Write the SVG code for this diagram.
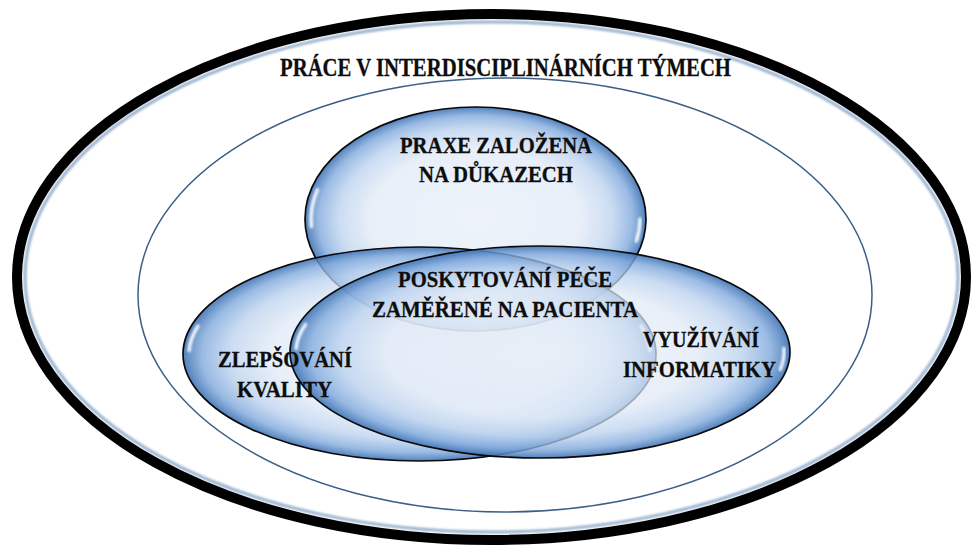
<svg xmlns="http://www.w3.org/2000/svg" width="972" height="551" viewBox="0 0 972 551">
  <defs>
    <radialGradient id="bubbleFill" cx="0.5" cy="0.5" r="0.5">
      <stop offset="0" stop-color="#e6eef8" stop-opacity="0.7"/>
      <stop offset="0.62" stop-color="#dfe9f6" stop-opacity="0.72"/>
      <stop offset="0.8" stop-color="#bad1ee" stop-opacity="0.75"/>
      <stop offset="0.92" stop-color="#80a9dc" stop-opacity="0.8"/>
      <stop offset="1" stop-color="#3f73b4" stop-opacity="0.9"/>
    </radialGradient>
    <filter id="soft" x="-20%" y="-20%" width="140%" height="140%">
      <feGaussianBlur stdDeviation="1"/>
    </filter>
    <filter id="glow" x="-50%" y="-50%" width="200%" height="200%">
      <feGaussianBlur stdDeviation="1"/>
    </filter>
  </defs>
  <style>
    .bubble { fill: url(#bubbleFill); stroke: #0a0a0a; stroke-width: 1.7; }
    .glint { fill: none; stroke: #ffffff; stroke-width: 3.5; stroke-linecap: round; opacity: 0.9; filter: url(#glow); }
    .label { font-family: "Liberation Serif", "Times New Roman", serif; font-weight: bold; fill: #0d0d0d; stroke: #0d0d0d; stroke-width: 0.3; }
    .title { font-size: 25px; }
    .inner { font-size: 24px; }
  </style>

  <rect width="972" height="551" fill="#ffffff"/>

  <!-- outer frame: interdisciplinary teamwork -->
  <g id="team-frame">
    <ellipse cx="491.5" cy="277" rx="466.5" ry="255" fill="none" stroke="#3f6ea6" stroke-width="3" opacity="0.55" filter="url(#soft)"/>
    <ellipse cx="491.5" cy="277" rx="474.5" ry="263" fill="none" stroke="#000000" stroke-width="10"/>
    <text class="label title" x="280" y="76" textLength="451" lengthAdjust="spacingAndGlyphs">PRÁCE V INTERDISCIPLINÁRNÍCH TÝMECH</text>
  </g>

  <!-- inner ring -->
  <g id="inner-ring">
    <ellipse cx="505" cy="295" rx="367" ry="217" fill="none" stroke="#3c5f85" stroke-width="1.5"/>
  </g>

  <!-- evidence-based practice -->
  <g id="evidence">
    <ellipse class="bubble" cx="475.5" cy="219" rx="170.5" ry="112"/>
    <path class="glint" d="M317.4,189.8 A164.5,106 0 0 0 311.4,226.4"/>
    <path class="glint" d="M640,219 A164.5,106 0 0 1 636.4,241"/>
  </g>

  <!-- quality improvement -->
  <g id="quality">
    <ellipse class="bubble" cx="419.5" cy="354" rx="236.5" ry="107"/>
    <path class="glint" d="M197.9,326.2 A230.5,101 0 0 0 189.1,350.5"/>
    <path class="glint" d="M641.1,326.2 A230.5,101 0 0 1 649.9,350.5"/>
  </g>

  <!-- informatics -->
  <g id="informatics">
    <ellipse class="bubble" cx="540" cy="352" rx="250" ry="106"/>
    <path class="glint" d="M305.4,324.4 A244,100 0 0 0 296.1,348.5"/>
    <path class="glint" d="M783.9,348.5 A244,100 0 0 1 780.3,369.4"/>
  </g>

  <!-- labels -->
  <g id="labels">
    <text class="label inner" x="400" y="153" textLength="192" lengthAdjust="spacingAndGlyphs">PRAXE ZALOŽENA</text>
    <text class="label inner" x="419" y="182" textLength="154" lengthAdjust="spacingAndGlyphs">NA DŮKAZECH</text>
    <text class="label inner" x="398" y="287" textLength="214" lengthAdjust="spacingAndGlyphs">POSKYTOVÁNÍ PÉČE</text>
    <text class="label inner" x="372" y="317" textLength="266" lengthAdjust="spacingAndGlyphs">ZAMĚŘENÉ NA PACIENTA</text>
    <text class="label inner" x="218" y="367" textLength="134" lengthAdjust="spacingAndGlyphs">ZLEPŠOVÁNÍ</text>
    <text class="label inner" x="237" y="397" textLength="95" lengthAdjust="spacingAndGlyphs">KVALITY</text>
    <text class="label inner" x="643" y="347" textLength="116" lengthAdjust="spacingAndGlyphs">VYUŽÍVÁNÍ</text>
    <text class="label inner" x="623" y="377" textLength="153" lengthAdjust="spacingAndGlyphs">INFORMATIKY</text>
  </g>
</svg>
